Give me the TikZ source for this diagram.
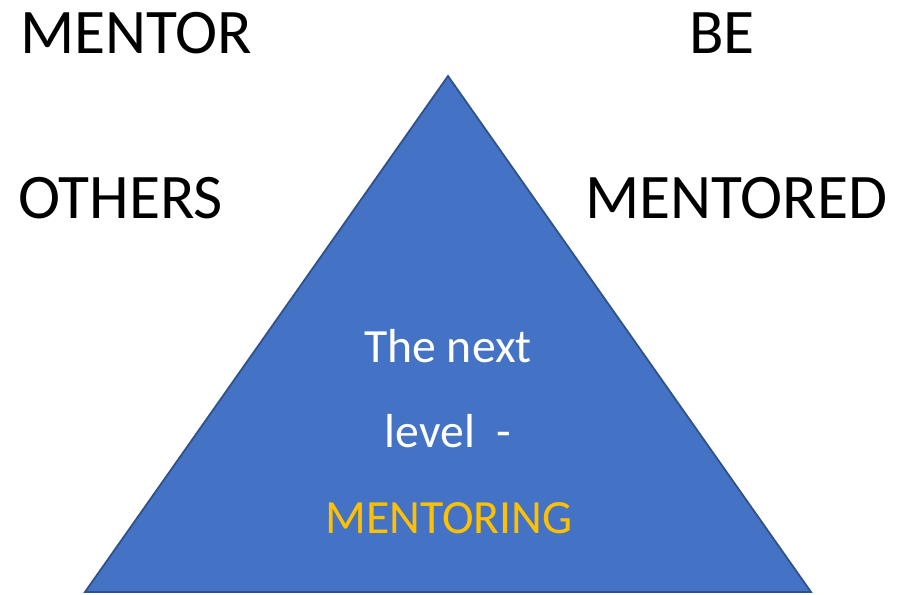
\documentclass[tikz,border=0pt]{standalone}
\usepackage{fontspec}
\setmainfont{Carlito}
\definecolor{trifill}{HTML}{4472C4}
\definecolor{triline}{HTML}{2F528F}
\definecolor{gold}{HTML}{FFC000}
\begin{document}
\begin{tikzpicture}[x=1pt,y=-1pt,
  big/.style={font=\fontsize{63.5}{63.5}\selectfont, inner sep=0pt, anchor=base west},
  inner/.style={font=\fontsize{47.7}{47.7}\selectfont, inner sep=0pt, anchor=base}]
\useasboundingbox (0,0) rectangle (904,594);
\draw[fill=trifill, draw=triline, line width=1.8pt, line join=miter]
  (448,76) coordinate (apex) -- (811,592) coordinate (br) -- (85,592) coordinate (bl) -- cycle;
\node[big] (mentor) at (20,53) {MENTOR};
\node[big] (be) at (689,53) {BE};
\node[big] (others) at (18,218) {OTHERS};
\node[big] (mentored) at (585,218) {MENTORED};
\node[inner, text=white] (next) at (448,362) {The next};
\node[inner, text=white] (level) at (448,447) {level\ \ -};
\node[inner, text=gold] (ment) at (449,533) {MENTORING};
\end{tikzpicture}
\end{document}
